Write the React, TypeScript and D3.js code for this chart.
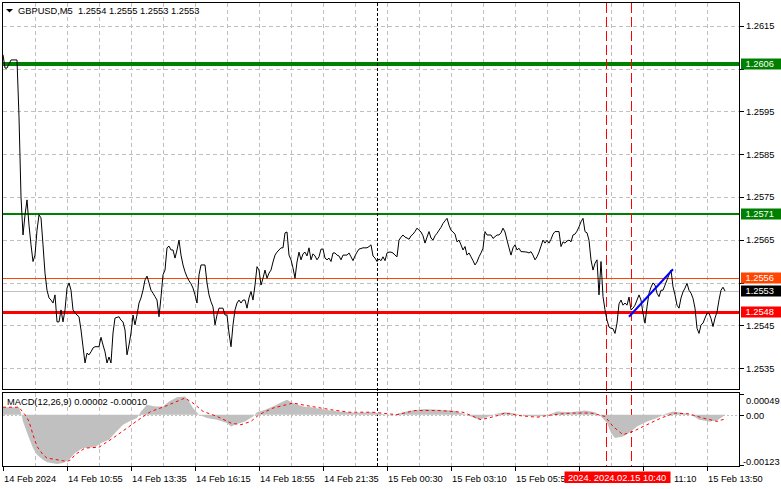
import React from "react";
import * as d3 from "d3";

// ---------- data ----------
const titleText = "GBPUSD,M5  1.2554 1.2555 1.2553 1.2553";
const macdTitle = "MACD(12,26,9) 0.00002 -0.00010";

// [bar index (5-minute bars), close]
const closes: [number, number][] = [
  [0, 1.26082], [1, 1.26051], [2, 1.26051], [4, 1.2607], [7, 1.2607], [8, 1.25937], [9, 1.2575],
  [10, 1.25661], [11, 1.25708], [12, 1.25743], [13, 1.25684], [14, 1.25638], [15, 1.25599], [16, 1.25614],
  [17, 1.25672], [18, 1.25708], [19, 1.25701], [20, 1.25638], [21, 1.25572], [22, 1.25532], [23, 1.25514],
  [24, 1.25509], [25, 1.25502], [26, 1.25521], [27, 1.25458], [28, 1.25458], [29, 1.25486], [30, 1.25458],
  [31, 1.25486], [32, 1.25537], [33, 1.25549], [34, 1.25532], [35, 1.25486], [36, 1.25479], [37, 1.25474],
  [38, 1.2547], [39, 1.25439], [40, 1.254], [41, 1.25362], [42, 1.25385], [43, 1.25381], [44, 1.25388],
  [45, 1.25397], [46, 1.254], [48, 1.254], [49, 1.25422], [50, 1.25404], [51, 1.25388], [52, 1.25362],
  [53, 1.25376], [54, 1.25362], [55, 1.25432], [56, 1.25467], [58, 1.2547], [59, 1.25462], [60, 1.25458],
  [61, 1.25439], [62, 1.25381], [63, 1.25404], [64, 1.25432], [65, 1.25474], [66, 1.25451], [67, 1.25474],
  [68, 1.25502], [69, 1.25514], [70, 1.25532], [71, 1.25556], [72, 1.25565], [73, 1.25549], [74, 1.25532],
  [75, 1.25525], [76, 1.25517], [77, 1.25509], [78, 1.2547], [79, 1.25516], [80, 1.25568], [81, 1.25579],
  [82, 1.25631], [83, 1.25635], [84, 1.25626], [85, 1.25626], [86, 1.25607], [87, 1.25626], [88, 1.25649],
  [89, 1.25614], [90, 1.25591], [91, 1.25575], [92, 1.25563], [93, 1.25554], [94, 1.25547], [95, 1.25537],
  [96, 1.25521], [97, 1.25502], [98, 1.25568], [99, 1.25591], [100, 1.25591], [101, 1.25591], [102, 1.25549],
  [103, 1.25521], [104, 1.25505], [105, 1.25493], [106, 1.25451], [107, 1.25474], [108, 1.2549], [110, 1.2549],
  [111, 1.25474], [112, 1.25474], [113, 1.25432], [114, 1.254], [115, 1.25451], [116, 1.25486], [117, 1.25502],
  [118, 1.25509], [119, 1.25502], [120, 1.25509], [121, 1.25509], [122, 1.2549], [123, 1.25514], [124, 1.25529],
  [125, 1.25509], [126, 1.25544], [127, 1.25587], [128, 1.25579], [129, 1.25544], [130, 1.2556], [131, 1.25579],
  [132, 1.2556], [133, 1.25572], [134, 1.25579], [135, 1.25598], [136, 1.25614], [137, 1.25621], [138, 1.25626],
  [139, 1.25631], [140, 1.25631], [141, 1.25666], [142, 1.25668], [143, 1.25614], [144, 1.25603], [145, 1.25584],
  [146, 1.2556], [147, 1.25598], [148, 1.25621], [149, 1.25603], [150, 1.25617], [151, 1.25621], [152, 1.25612],
  [153, 1.25631], [154, 1.25603], [155, 1.25617], [156, 1.25612], [157, 1.25603], [158, 1.2561], [159, 1.25628],
  [160, 1.25628], [161, 1.25607], [162, 1.25603], [163, 1.25607], [164, 1.25599], [165, 1.25619], [166, 1.25619],
  [167, 1.25614], [168, 1.25612], [169, 1.25603], [170, 1.25614], [172, 1.25614], [173, 1.25619], [174, 1.2561],
  [175, 1.25601], [176, 1.25612], [177, 1.25621], [178, 1.25628], [180, 1.25631], [182, 1.25631], [183, 1.25634],
  [184, 1.25638], [185, 1.25612], [186, 1.25607], [187, 1.25599], [188, 1.25605], [189, 1.25601], [190, 1.2561],
  [191, 1.25601], [192, 1.25619], [193, 1.25621], [194, 1.25621], [195, 1.25619], [196, 1.25614], [197, 1.2561],
  [198, 1.25649], [199, 1.25656], [200, 1.25661], [201, 1.25656], [202, 1.25654], [203, 1.25651], [204, 1.25659],
  [205, 1.25663], [206, 1.25669], [207, 1.25677], [208, 1.25672], [209, 1.25668], [210, 1.25659], [211, 1.25642],
  [212, 1.25656], [213, 1.25669], [214, 1.25654], [215, 1.25649], [216, 1.25659], [217, 1.25665], [218, 1.25672],
  [219, 1.25679], [220, 1.25688], [221, 1.25694], [222, 1.257], [223, 1.25684], [224, 1.25672], [225, 1.25668],
  [226, 1.25663], [227, 1.25645], [228, 1.25649], [229, 1.25638], [230, 1.25626], [231, 1.25634], [232, 1.25614],
  [233, 1.25619], [234, 1.2561], [235, 1.25601], [236, 1.25591], [237, 1.25598], [238, 1.2561], [239, 1.25619],
  [240, 1.2563], [241, 1.25669], [242, 1.25661], [243, 1.25661], [244, 1.25661], [245, 1.25653], [246, 1.25657],
  [247, 1.25661], [248, 1.25661], [249, 1.25666], [250, 1.25677], [251, 1.25668], [252, 1.25649], [253, 1.25631],
  [254, 1.25614], [255, 1.25631], [256, 1.25638], [257, 1.25626], [258, 1.2563], [259, 1.25622], [260, 1.25622],
  [262, 1.25621], [263, 1.25619], [264, 1.25622], [265, 1.25614], [266, 1.25603], [267, 1.2561], [268, 1.25621],
  [269, 1.25635], [270, 1.25649], [271, 1.25642], [272, 1.25649], [273, 1.25642], [274, 1.25651], [275, 1.25663],
  [276, 1.25669], [277, 1.25669], [278, 1.25669], [279, 1.25634], [280, 1.25645], [281, 1.25642], [282, 1.25647],
  [283, 1.25649], [284, 1.25645], [285, 1.25661], [286, 1.25663], [287, 1.2567], [288, 1.2568], [289, 1.25692],
  [290, 1.257], [291, 1.25669], [292, 1.25666], [293, 1.25649], [294, 1.25603], [295, 1.25579], [296, 1.25595],
  [297, 1.25603], [298, 1.25521], [299, 1.25599], [300, 1.25517], [301, 1.25486], [302, 1.25462], [303, 1.25446],
  [304, 1.25443], [305, 1.25442], [306, 1.25431], [307, 1.25455], [308, 1.255], [309, 1.25509], [310, 1.25497],
  [311, 1.25502], [312, 1.25497], [313, 1.25516], [314, 1.25486], [315, 1.2549], [316, 1.25497], [317, 1.25509],
  [318, 1.25521], [319, 1.25509], [320, 1.25478], [321, 1.25455], [322, 1.25493], [323, 1.25525], [324, 1.25539],
  [325, 1.25549], [326, 1.25544], [327, 1.25525], [328, 1.25517], [329, 1.25532], [330, 1.25532], [331, 1.25544],
  [332, 1.25556], [333, 1.25568], [334, 1.25579], [335, 1.2554], [336, 1.25521], [337, 1.25497], [338, 1.2549],
  [339, 1.25514], [340, 1.25528], [341, 1.25537], [342, 1.25548], [343, 1.25532], [344, 1.25525], [345, 1.25513],
  [346, 1.2549], [347, 1.25443], [348, 1.25431], [349, 1.25451], [350, 1.25455], [351, 1.25467], [352, 1.25478],
  [353, 1.25478], [354, 1.25466], [355, 1.25447], [356, 1.25467], [357, 1.25481], [358, 1.25509], [359, 1.25532],
  [360, 1.25539], [361, 1.2553],
];

// MACD histogram / signal, in units of 0.00001: [bar index, value]
const macdHist: [number, number][] = [
  [0, 18], [8, 18], [9, 5], [10, -16], [13, -56], [15, -80], [17, -96], [20, -108], [22, -114], [27, -118],
  [30, -116], [33, -108], [36, -92], [40, -80], [46, -78], [49, -68], [53, -60], [56, -44], [60, -24], [63, -16],
  [67, -8], [69, 8], [72, 24], [76, 20], [80, 20], [83, 32], [87, 42], [91, 44], [93, 32], [95, 16], [98, 0],
  [102, -8], [107, -12], [112, -20], [114, -28], [117, -22], [121, -16], [125, -4], [127, 6], [131, 12], [135, 20],
  [140, 32], [142, 36], [145, 28], [150, 20], [154, 18], [161, 12], [168, 8], [176, 5], [185, 6], [190, 2],
  [194, -2], [199, 5], [204, 10], [211, 14], [218, 12], [225, 10], [230, 3], [235, -6], [238, -12], [242, -6],
  [246, 2], [251, 6], [256, 3], [260, -2], [267, -4], [272, -2], [277, 8], [284, 6], [291, 10], [296, 6],
  [299, -4], [302, -20], [304, -44], [306, -56], [310, -52], [314, -40], [317, -28], [322, -16], [327, -8],
  [331, 2], [335, 8], [340, 4], [344, 0], [348, -12], [353, -16], [357, -14], [360, -4], [361, 2],
];
const macdSignal: [number, number][] = [
  [0, 18], [8, 18], [11, 0], [13, -16], [15, -48], [17, -76], [20, -96], [22, -104], [27, -108], [32, -112],
  [34, -108], [36, -96], [41, -80], [48, -78], [55, -56], [62, -32], [69, -8], [74, 8], [81, 20], [91, 40],
  [95, 28], [100, 8], [107, -4], [114, -20], [119, -24], [124, -16], [128, 0], [135, 16], [145, 28], [154, 20],
  [164, 12], [173, 6], [185, 6], [197, 0], [206, 10], [218, 10], [230, 6], [239, -12], [246, -4], [251, 4],
  [258, -2], [267, -6], [275, 0], [284, 4], [294, 4], [301, -4], [305, -28], [310, -48], [315, -40], [322, -24],
  [329, -8], [336, 4], [343, 2], [350, -8], [357, -16], [361, -10],
];

const priceTicks = [1.2535, 1.2545, 1.2555, 1.2565, 1.2575, 1.2585, 1.2595, 1.2605, 1.2615];
const supportLevels = [1.2606, 1.2571]; // green
const orangeLevel = 1.2556;
const redLevel = 1.2548;
const currentPrice = 1.2553;
const macdMax = 49;
const macdMin = -123;

const timeTickBars = [0, 32, 64, 96, 128, 160, 192, 224, 256, 288, 320, 352];
const timeLabels = [
  "14 Feb 2024", "14 Feb 10:55", "14 Feb 13:35", "14 Feb 16:15", "14 Feb 18:55", "14 Feb 21:35",
  "15 Feb 00:30", "15 Feb 03:10", "15 Feb 05:50", "15 Feb 08:30", "15 Feb 11:10", "15 Feb 13:50",
];
const crosshairBar = 281;
const crosshairLabel = "2024. 2024.02.15 10:40";
const periodSeparatorBar = 187;
const redVerticalBars = [301.5, 314];
const trendLine: [number, number][] = [[313, 1.2547], [335, 1.25581]];

// ---------- layout ----------
const W = 781;
const H = 489;
const L = 2.5;
const R = 739.5;
const mainTop = 2.5;
const mainBottom = 389.5;
const macdTop = 392.5;
const macdBottom = 466.5;
const FONT = "'Liberation Sans', Arial, sans-serif";
const FS = 9.3;
const CH_W = 106;

export default function App() {
  const x = d3.scaleLinear().domain([0, 369]).range([3, 741]);
  const y = d3.scaleLinear().domain([1.2535, 1.2615]).range([368.1, 25.7]);
  const my = d3.scaleLinear().domain([macdMin, macdMax]).range([466, 394.3]);

  const line = d3.line<[number, number]>().x((d) => x(d[0])).y((d) => y(d[1]));
  const sigLine = d3.line<[number, number]>().x((d) => x(d[0])).y((d) => my(d[1]));
  const histArea = d3
    .area<[number, number]>()
    .x((d) => x(d[0]))
    .y0(my(0))
    .y1((d) => my(d[1]));

  const gridXs: number[] = [];
  for (let b = 16; b < 369; b += 16) gridXs.push(Math.round(x(b)) + 0.5);

  const boxPrices = [supportLevels[0], supportLevels[1], orangeLevel, currentPrice, redLevel];
  const visibleTicks = priceTicks.filter((p) => boxPrices.every((b) => Math.abs(y(b) - y(p)) > 8));

  const chLeft = Math.round(x(crosshairBar)) - 0.5;
  const chRight = chLeft + CH_W;

  const boxLabel = (p: number, bg: string, key: string) => {
    const yy = Math.round(y(p));
    return (
      <g key={key}>
        <rect x={741} y={yy - 5.5} width={42} height={11} fill={bg} />
        <text x={745.5} y={yy + 3.4} fill="#ffffff" fontSize={FS} fontFamily={FONT}>
          {p.toFixed(4)}
        </text>
      </g>
    );
  };

  return (
    <svg
      width={W}
      height={H}
      style={{ position: "absolute", left: 0, top: 0, background: "#ffffff" }}
    >
      <rect x={0} y={0} width={W} height={H} fill="#ffffff" />
      {/* main grid */}
      <g stroke="#c0c0c0" strokeWidth={1} strokeDasharray="4,3" shapeRendering="crispEdges">
        {priceTicks.map((p) => (
          <line key={"h" + p} x1={L} x2={R} y1={Math.round(y(p)) + 0.5} y2={Math.round(y(p)) + 0.5} />
        ))}
        {gridXs.map((gx) => (
          <line key={"v" + gx} x1={gx} x2={gx} y1={mainTop} y2={mainBottom} />
        ))}
        {gridXs.map((gx) => (
          <line key={"mv" + gx} x1={gx} x2={gx} y1={macdTop} y2={macdBottom} />
        ))}
      </g>

      {/* level lines */}
      <g shapeRendering="crispEdges">
        <line x1={L} x2={R} y1={y(currentPrice)} y2={y(currentPrice)} stroke="#c0c0c0" strokeWidth={1} />
        <line x1={L} x2={R} y1={y(supportLevels[0])} y2={y(supportLevels[0])} stroke="#008000" strokeWidth={4} />
        <line x1={L} x2={R} y1={y(supportLevels[1])} y2={y(supportLevels[1])} stroke="#008000" strokeWidth={2.5} />
        <line x1={L} x2={R} y1={y(orangeLevel)} y2={y(orangeLevel)} stroke="#ff4500" strokeWidth={1} />
        <line x1={L} x2={R} y1={y(redLevel)} y2={y(redLevel)} stroke="#ff0000" strokeWidth={2.5} />
      </g>

      {/* verticals */}
      <line
        x1={Math.round(x(periodSeparatorBar)) + 0.5}
        x2={Math.round(x(periodSeparatorBar)) + 0.5}
        y1={mainTop}
        y2={macdBottom}
        stroke="#000000"
        strokeDasharray="3,2"
        shapeRendering="crispEdges"
      />
      {redVerticalBars.map((b) => (
        <line
          key={"rv" + b}
          x1={Math.round(x(b)) + 0.5}
          x2={Math.round(x(b)) + 0.5}
          y1={mainTop}
          y2={macdBottom}
          stroke="#ff0000"
          strokeDasharray="10,4"
          shapeRendering="crispEdges"
        />
      ))}

      {/* price line */}
      <path d={line(closes) || ""} fill="none" stroke="#000000" strokeWidth={1} />
      <path d={line(trendLine) || ""} fill="none" stroke="#0000ff" strokeWidth={2} />

      {/* MACD */}
      <path d={histArea(macdHist) || ""} fill="#c0c0c0" stroke="none" />
      <line
        x1={L}
        x2={R}
        y1={Math.round(my(0)) + 0.5}
        y2={Math.round(my(0)) + 0.5}
        stroke="#c0c0c0"
        strokeDasharray="2,2"
        shapeRendering="crispEdges"
      />
      <path d={sigLine(macdSignal) || ""} fill="none" stroke="#ff0000" strokeWidth={1} strokeDasharray="3,3" />

      {/* frames */}
      <g fill="none" stroke="#000000" strokeWidth={1} shapeRendering="crispEdges">
        <rect x={L} y={mainTop} width={R - L} height={mainBottom - mainTop} />
        <rect x={L} y={macdTop} width={R - L} height={macdBottom - macdTop} />
      </g>

      {/* titles */}
      <path d="M6,9 L13,9 L9.5,12.5 Z" fill="#000000" />
      <text x={18} y={14} fontSize={FS} fontFamily={FONT} fill="#000000" style={{ whiteSpace: "pre" }}>
        {titleText}
      </text>
      <text x={7} y={405} fontSize={FS} fontFamily={FONT} fill="#000000">
        {macdTitle}
      </text>

      {/* right price axis */}
      <g fontSize={FS} fontFamily={FONT} fill="#000000">
        {priceTicks.map((p) => (
          <line
            key={"ptl" + p}
            x1={R}
            x2={R + 4}
            y1={Math.round(y(p)) + 0.5}
            y2={Math.round(y(p)) + 0.5}
            stroke="#000000"
            shapeRendering="crispEdges"
          />
        ))}
        {visibleTicks.map((p) => (
          <text key={"pt" + p} x={746} y={y(p) + 3.4}>
            {p.toFixed(4)}
          </text>
        ))}
      </g>
      {boxLabel(supportLevels[0], "#008000", "b1")}
      {boxLabel(supportLevels[1], "#008000", "b2")}
      {boxLabel(orangeLevel, "#ff4500", "b3")}
      {boxLabel(currentPrice, "#000000", "b4")}
      {boxLabel(redLevel, "#ff0000", "b5")}

      {/* MACD axis */}
      <g fontSize={FS} fontFamily={FONT} fill="#000000">
        <text x={746} y={403.5}>0.00049</text>
        <text x={746} y={418.5}>0.00</text>
        <text x={743} y={464.5}>-0.00123</text>
        {[394.5, Math.round(my(0)) + 0.5, 465.5].map((ty) => (
          <line key={"mt" + ty} x1={R} x2={R + 4} y1={ty} y2={ty} stroke="#000000" shapeRendering="crispEdges" />
        ))}
      </g>

      {/* time axis */}
      <g fontSize={FS} fontFamily={FONT} fill="#000000">
        {timeTickBars.map((b, i) => {
          const tx = Math.round(x(b)) + 0.5;
          const label = timeLabels[i];
          const approxEnd = tx + 53;
          let content: React.ReactNode = null;
          if (tx < chLeft && approxEnd > chLeft) {
            // partly hidden by the crosshair time box
            content = (
              <text x={tx + 0.5} y={481.5}>
                {label.slice(0, -1)}
              </text>
            );
          } else if (tx >= chLeft && tx < chRight) {
            if (approxEnd > chRight + 10) {
              content = (
                <text x={approxEnd} y={481.5} textAnchor="end">
                  {label.split(" ")[2]}
                </text>
              );
            }
          } else {
            content = (
              <text x={tx + 0.5} y={481.5}>
                {label}
              </text>
            );
          }
          return (
            <g key={"tt" + b}>
              <line x1={tx} x2={tx} y1={macdBottom} y2={macdBottom + 4} stroke="#000000" shapeRendering="crispEdges" />
              {content}
            </g>
          );
        })}
      </g>
      <rect x={chLeft} y={471.5} width={CH_W} height={11.5} fill="#ff0000" />
      <text x={chLeft + 3.5} y={481} fontSize={FS} fontFamily={FONT} fill="#ffffff">
        {crosshairLabel}
      </text>
    </svg>
  );
}
